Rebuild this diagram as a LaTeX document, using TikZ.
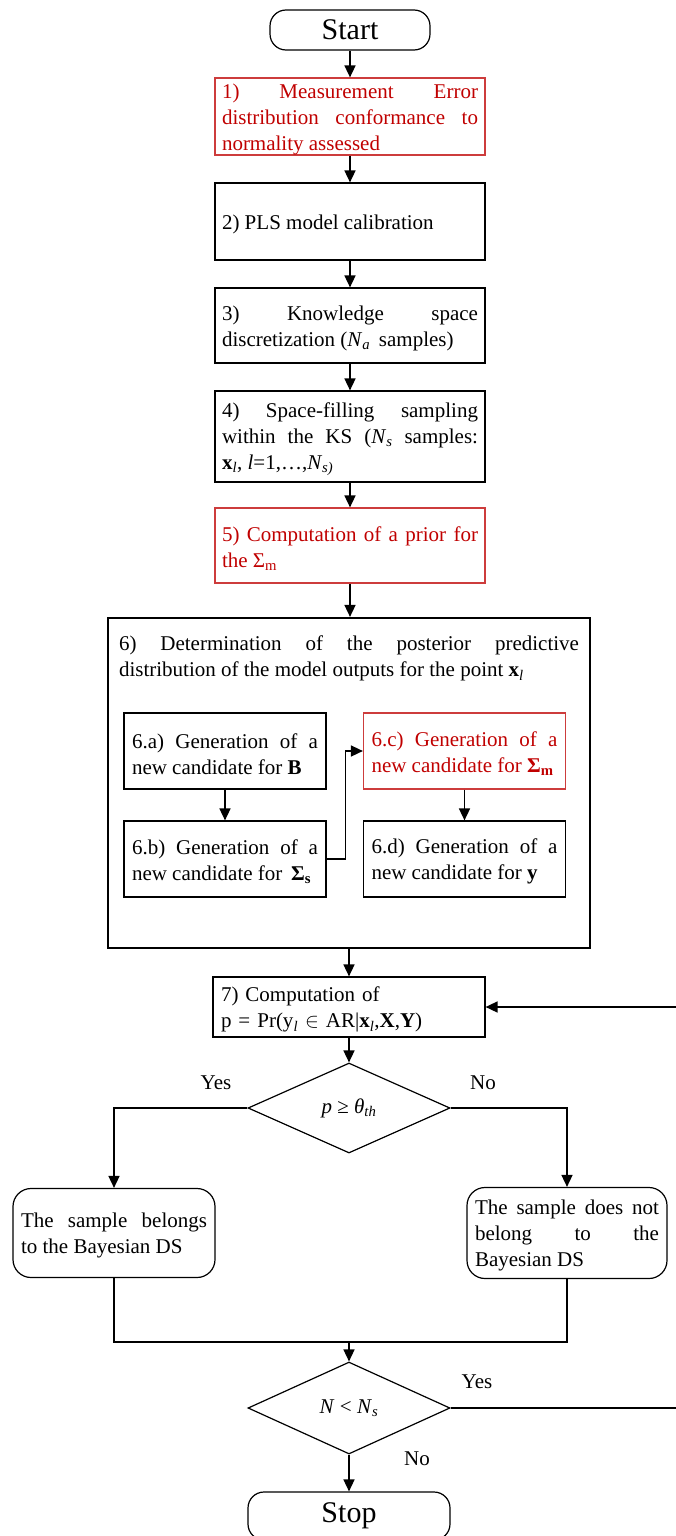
\documentclass[tikz,border=0pt]{standalone}
\usepackage{fontspec}
\setmainfont{Liberation Serif}
\usetikzlibrary{arrows.meta,shapes.geometric}
\definecolor{stepred}{RGB}{192,0,0}
\definecolor{stepredline}{RGB}{205,60,60}
\tolerance=9999
\hbadness=10000
\hyphenpenalty=10000

\begin{document}
\begin{tikzpicture}[x=1pt,y=-1pt,
    every node/.style={font=\fontsize{21}{26}\selectfont},
    arr/.style={-{Triangle[length=12pt,width=11pt]}, line width=1.6pt},
    ln/.style={line width=1.6pt},
    lowered/.style={execute at begin node={\rule{0pt}{20.5pt}}},
    stepbox/.style={draw, line width=1.2pt, minimum width=270pt, minimum height=77pt,
        text width=256pt, align=justify, inner xsep=7pt, inner ysep=0pt, lowered},
    redbox/.style={stepbox, draw=stepredline, text=stepred},
    subbox/.style={draw, line width=1.2pt, minimum width=202pt, minimum height=76pt,
        text width=186pt, align=justify, inner xsep=8pt, inner ysep=0pt, lowered},
    endbox/.style={draw, line width=1.2pt, rounded corners=16pt, minimum width=202pt,
        minimum height=48pt, font=\fontsize{30}{34}\selectfont},
    resultbox/.style={draw, line width=1.2pt, rounded corners=18pt, minimum width=202pt,
        minimum height=90pt, text width=186pt, align=justify, inner xsep=8pt, inner ysep=0pt, lowered},
    decision/.style={draw, diamond, line width=1.2pt, minimum width=202pt, minimum height=90pt,
        aspect=2.3, inner sep=0pt}]
    \useasboundingbox (0,0) rectangle (676,1536);
    % main steps
    \node[endbox, minimum width=160pt, minimum height=40pt] (start) at (350,30) {Start};
    \node[redbox] (b1) at (350,116.5) {1) Measurement Error\linebreak distribution conformance to\linebreak normality assessed};
    \node[stepbox] (b2) at (350,221.5) {2) PLS model calibration};
    \node[stepbox, minimum height=75pt] (b3) at (350,325.5) {3) Knowledge space\linebreak discretization (\textit{N}\textsubscript{\textit{a}}\, samples)};
    \node[stepbox, minimum height=91pt] (b4) at (350,436.5) {4) Space-filling sampling\linebreak within the KS (\textit{N}\textsubscript{\textit{s}} samples:\linebreak \textbf{x}\textsubscript{\textit{l}}, \textit{l}=1,\ldots,\textit{N}\textsubscript{\textit{s)}}};
    \node[redbox, minimum height=75pt] (b5) at (350,545.5) {5) Computation of a prior for\linebreak the Σ\textsubscript{m}};
    % step 6 with its sub-steps
    \node[draw, line width=2.2pt, minimum width=482pt, minimum height=330pt] (b6) at (349,783) {};
    \node[anchor=north, text width=460pt, align=justify, inner sep=0pt] (b6title) at (349,636) {6) Determination of the posterior predictive\linebreak distribution of the model outputs for the point \textbf{x}\textsubscript{\textit{l}}};
    \node[subbox] (b6a) at (225,751) {6.a) Generation of a\linebreak new candidate for \textbf{B}};
    \node[subbox] (b6b) at (225,859) {6.b) Generation of a\linebreak new candidate for\, \textbf{Σ\textsubscript{s}}};
    \node[subbox, draw=stepredline, text=stepred] (b6c) at (464.5,751) {6.c) Generation of a\linebreak new candidate for \textbf{Σ\textsubscript{m}}};
    \node[subbox] (b6d) at (464.5,859) {6.d) Generation of a\linebreak new candidate for \textbf{y}};
    % step 7 and decisions
    \node[stepbox, minimum width=272pt, minimum height=60pt, align=left] (b7) at (349,1007) {7) Computation of\\ p = Pr(y\textsubscript{\textit{l}} $\in$ AR|\textbf{x}\textsubscript{\textit{l}},\textbf{X},\textbf{Y})};
    \node[decision] (d1) at (349,1108) {\textit{p} ≥ \textit{θ}\textsubscript{\textit{th}}};
    \node (yes1) at (216,1083) {Yes};
    \node (no1) at (483,1083) {No};
    \node[resultbox, minimum height=89pt] (belong) at (114,1233) {The sample belongs\linebreak to the Bayesian DS};
    \node[resultbox, minimum width=200pt, text width=184pt, minimum height=91pt] (notbelong) at (567,1233) {The sample does not\linebreak belong to the\linebreak Bayesian DS};
    \coordinate (merge) at (349,1342);
    \node[decision, minimum height=92pt] (d2) at (349,1408) {\textit{N} < \textit{N}\textsubscript{\textit{s}}};
    \node (yes2) at (477,1382) {Yes};
    \node (no2) at (417,1459) {No};
    \node[endbox] (stop) at (349,1516) {Stop};
    \coordinate (loop) at (692,1408);
    % connectors
    \draw[arr] (start) -- (b1);
    \draw[arr] (b1) -- (b2);
    \draw[arr] (b2) -- (b3);
    \draw[arr] (b3) -- (b4);
    \draw[arr] (b4) -- (b5);
    \draw[arr] (b5.south) -- (b5.south |- b6.north);
    \draw[arr] (b6a) -- (b6b);
    \draw[arr] (b6b.east) -- ++(19,0) |- (b6c.west);
    \draw[arr] (b6c) -- (b6d);
    \draw[arr] (b6.south -| b7.north) -- (b7.north);
    \draw[arr] (b7) -- (d1);
    \draw[arr] (d1.west) -| (belong.north);
    \draw[arr] (d1.east) -| (notbelong.north);
    \draw[ln] (belong.south) |- (merge) -| (notbelong.south);
    \draw[arr] (merge) -- (d2.north);
    \draw[arr] (d2) -- (stop);
    \draw[arr] (d2.east) -- (loop) |- (b7.east);
\end{tikzpicture}
\end{document}
